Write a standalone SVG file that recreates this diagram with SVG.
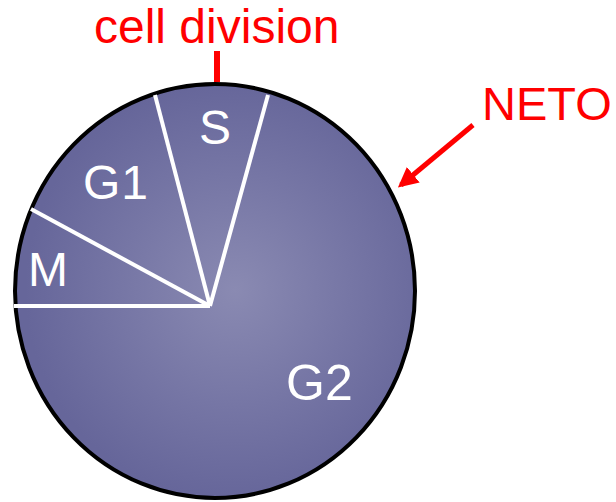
<svg xmlns="http://www.w3.org/2000/svg" width="616" height="502" viewBox="0 0 616 502">
<defs>
<radialGradient id="g" cx="235" cy="290" r="210" gradientUnits="userSpaceOnUse">
<stop offset="0" stop-color="#8a8ab2"/>
<stop offset="0.55" stop-color="#7676a5"/>
<stop offset="1" stop-color="#66669a"/>
</radialGradient>
<marker id="ah" markerWidth="4" markerHeight="4" refX="3.2" refY="2" orient="auto" markerUnits="strokeWidth">
<path d="M0,0 L4,2 L0,4 Z" fill="#ff0000"/>
</marker>
<style>
.lbl{font-family:"Liberation Sans",Arial,sans-serif;font-size:48px;fill:#ffffff}
.red{font-family:"Liberation Sans",Arial,sans-serif;font-size:48px;fill:#ff0000}
.div{stroke:#ffffff;stroke-width:4;fill:none}
</style>
</defs>
<g id="cell">
<ellipse cx="215" cy="291" rx="200" ry="207" fill="url(#g)" stroke="#000000" stroke-width="4"/>
</g>
<g id="dividers">
<line class="div" x1="14" y1="306" x2="210" y2="306"/>
<line class="div" x1="31" y1="209" x2="210" y2="306"/>
<line class="div" x1="155" y1="95" x2="210" y2="306"/>
<line class="div" x1="268" y1="95" x2="210" y2="306"/>
</g>
<g id="phase-S"><text class="lbl" x="199" y="144">S</text></g>
<g id="phase-G1"><text class="lbl" x="83" y="199" letter-spacing="1">G1</text></g>
<g id="phase-M"><text class="lbl" x="28" y="286">M</text></g>
<g id="phase-G2"><text class="lbl" x="286" y="400" style="font-size:50px">G2</text></g>
<g id="label-cell-division">
<text class="red" x="94" y="43">cell division</text>
</g>
<g id="label-neto">
<text class="red" x="482" y="120" style="font-size:47px">NETO</text>
</g>
<g id="connectors">
<rect x="214" y="51" width="6" height="31" fill="#ff0000"/>
<line x1="473" y1="125" x2="401" y2="185" stroke="#ff0000" stroke-width="5" marker-end="url(#ah)"/>
</g>
</svg>
